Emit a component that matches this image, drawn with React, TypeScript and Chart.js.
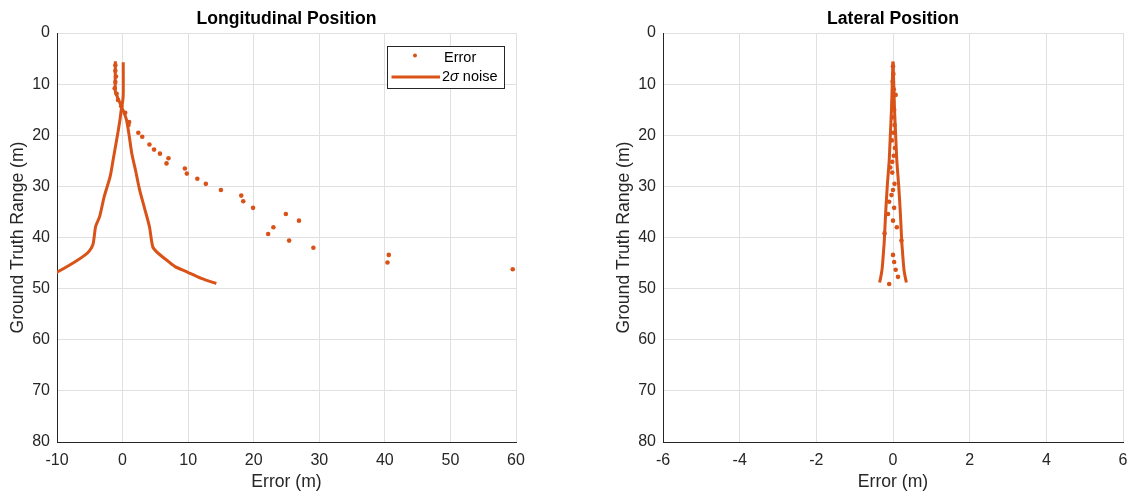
import React, { useEffect, useRef } from 'react';
import { Chart, registerables } from 'chart.js';

Chart.register(...registerables);

const FONT = '"Liberation Sans", Arial, Helvetica, sans-serif';
const ORANGE = '#D95319';
const AXIS = '#262626';
const GRID = '#e0e0e0';

// ---------- Longitudinal Position ----------
const lonErrRange = [6.3, 7.4, 8.5, 9.6, 10.8, 11.9, 13.1, 14.3, 15.6, 17.4, 18.0, 19.5, 20.3, 21.8, 22.8, 23.6, 24.5, 25.5, 26.5, 27.5, 28.5, 29.5, 30.7, 31.8, 32.9, 34.2, 35.4, 36.7, 38.0, 39.3, 40.6, 42.0, 43.4, 44.9, 46.2];
const lonErr = [-1.1, -1.1, -1.0, -1.1, -1.2, -0.9, -0.7, -0.2, 0.4, 1.0, 0.9, 2.4, 3.0, 4.1, 4.8, 5.7, 7.0, 6.7, 9.5, 9.8, 11.4, 12.7, 15.0, 18.1, 18.4, 19.9, 24.9, 26.9, 23.0, 22.2, 25.4, 29.1, 40.6, 40.4, 59.5];

const lonSigmaPosRange = [5.5, 11.5, 12.5, 14, 15.5, 17, 20, 23.5, 27, 30.7, 34.5, 37.9, 41.8, 42.8, 44.4, 45.7, 46.7, 48, 49];
const lonSigmaPos = [-1.1, -1.1, -0.8, -0.3, 0.2, 0.6, 1.0, 1.4, 2.0, 2.6, 3.4, 4.1, 4.6, 5.2, 6.7, 8.0, 9.8, 12.0, 14.3];
const lonSigmaNegRange = [5.7, 12, 13.5, 15, 17, 20.9, 24.5, 28.1, 32, 35.9, 37.8, 41.3, 42.5, 43.4, 44.8, 46.8, 48, 49];
const lonSigmaNeg = [0.1, 0.1, 0.0, -0.2, -0.4, -0.9, -1.4, -1.9, -2.8, -3.5, -4.1, -4.5, -5.0, -5.7, -7.3, -10, -12, -14.3];

// ---------- Lateral Position ----------
const latErrRange = [6.5, 8, 9.5, 11, 12.1, 13.5, 15, 16.5, 18, 19.5, 21, 22.5, 24, 25.2, 26.3, 27.3, 29.5, 30.7, 31.7, 33.0, 34.2, 35.4, 36.7, 38.0, 39.2, 40.6, 43.4, 44.8, 46.3, 47.7, 49.1];
const latErr = [0.0, 0.01, -0.01, 0.02, 0.07, 0.0, 0.03, -0.02, 0.04, 0.01, -0.03, 0.05, 0.02, -0.02, -0.07, -0.02, 0.04, 0.0, -0.04, -0.1, 0.03, -0.13, 0.0, 0.1, -0.22, 0.22, 0.0, 0.03, 0.07, 0.13, -0.1];

const latSigmaRange = [5.6, 10, 15, 20, 25, 30, 35, 38, 41, 43, 45, 46.5, 47.8, 48.8];
const latSigmaPos = [0.0, 0.02, 0.04, 0.07, 0.1, 0.15, 0.19, 0.21, 0.23, 0.25, 0.27, 0.29, 0.32, 0.35];
const latSigmaNeg = [0.0, -0.02, -0.04, -0.07, -0.1, -0.15, -0.19, -0.21, -0.23, -0.25, -0.27, -0.29, -0.32, -0.35];

// ---------- Axes ----------
const lonXTicks = { min: -10, max: 60, step: 10 };
const latXTicks = { min: -6, max: 6, step: 2 };
const yTicks = { min: 0, max: 80, step: 10 };

const titles = ['Longitudinal Position', 'Lateral Position'];
const xLabel = 'Error (m)';
const yLabel = 'Ground Truth Range (m)';
const legendLabels = ['Error', '2σ noise'];

const toPts = (xs: number[], ys: number[]) => xs.map((x, i) => ({ x, y: ys[i] }));

const legendPlugin = {
  id: 'matlabLegend',
  afterDraw(chart: any) {
    const { ctx, chartArea } = chart;
    const w = 117;
    const h = 42;
    const x = Math.round(chartArea.right - 12 - w);
    const y = Math.round(chartArea.top + 13);
    ctx.save();
    ctx.fillStyle = '#ffffff';
    ctx.fillRect(x, y, w, h);
    ctx.strokeStyle = AXIS;
    ctx.lineWidth = 1;
    ctx.strokeRect(x + 0.5, y + 0.5, w, h);
    ctx.fillStyle = ORANGE;
    ctx.beginPath();
    ctx.arc(x + 28, y + 9.5, 2, 0, Math.PI * 2);
    ctx.fill();
    ctx.strokeStyle = ORANGE;
    ctx.lineWidth = 3;
    ctx.beginPath();
    ctx.moveTo(x + 4.5, y + 31);
    ctx.lineTo(x + 53, y + 31);
    ctx.stroke();
    ctx.fillStyle = '#000';
    ctx.textBaseline = 'middle';
    ctx.textAlign = 'left';
    ctx.font = `14.5px ${FONT}`;
    ctx.fillText(legendLabels[0], x + 57, y + 12);
    const lbl = legendLabels[1];
    const p1 = lbl.slice(0, 1);
    const p2 = lbl.slice(1, 2);
    const p3 = lbl.slice(2);
    let tx = x + 55;
    ctx.fillText(p1, tx, y + 31);
    tx += ctx.measureText(p1).width;
    ctx.font = `italic 14.5px ${FONT}`;
    ctx.fillText(p2, tx, y + 31);
    tx += ctx.measureText(p2).width;
    ctx.font = `14.5px ${FONT}`;
    ctx.fillText(p3, tx, y + 31);
    ctx.restore();
  },
};

function buildConfig(
  title: string,
  xr: { min: number; max: number; step: number },
  errX: number[], errY: number[],
  posX: number[], posY: number[],
  negX: number[], negY: number[],
  padLeft: number, padRight: number,
  withLegend: boolean,
): any {
  return {
    type: 'scatter',
    data: {
      datasets: [
        {
          label: legendLabels[1],
          data: toPts(posX, posY),
          showLine: true,
          borderColor: ORANGE,
          backgroundColor: ORANGE,
          borderWidth: 3,
          pointRadius: 0,
          tension: 0.25,
          order: 0,
        },
        {
          label: legendLabels[1] + ' ',
          data: toPts(negX, negY),
          showLine: true,
          borderColor: ORANGE,
          backgroundColor: ORANGE,
          borderWidth: 3,
          pointRadius: 0,
          tension: 0.25,
          order: 0,
        },
        {
          label: legendLabels[0],
          data: toPts(errX, errY),
          showLine: false,
          backgroundColor: ORANGE,
          borderColor: ORANGE,
          borderWidth: 0,
          pointRadius: 2.3,
          order: 1,
        },
      ],
    },
    options: {
      responsive: false,
      animation: false,
      devicePixelRatio: 1,
      events: [],
      layout: { padding: { left: padLeft, right: padRight, top: 0, bottom: 0 } },
      plugins: {
        legend: { display: false },
        tooltip: { enabled: false },
        title: {
          display: true,
          text: title,
          fullSize: false,
          color: '#000',
          font: { family: FONT, size: 17.6, weight: 'bold', lineHeight: 1.2 },
          padding: { top: 8.5, bottom: 3.4 },
        },
      },
      scales: {
        x: {
          type: 'linear',
          min: xr.min,
          max: xr.max,
          ticks: {
            stepSize: xr.step,
            color: AXIS,
            font: { family: FONT, size: 16 },
            padding: 9,
            maxRotation: 0,
          },
          grid: { color: GRID, lineWidth: 1, drawTicks: false },
          border: { color: AXIS, width: 1 },
          title: {
            display: true,
            text: xLabel,
            color: AXIS,
            font: { family: FONT, size: 17.6, lineHeight: 1.2 },
            padding: { top: 0, bottom: 0 },
          },
          afterFit: (s: any) => { s.height = 51; },
        },
        y: {
          type: 'linear',
          reverse: true,
          min: yTicks.min,
          max: yTicks.max,
          ticks: {
            stepSize: yTicks.step,
            color: AXIS,
            font: { family: FONT, size: 16 },
            padding: 7,
          },
          grid: { color: GRID, lineWidth: 1, drawTicks: false },
          border: { color: AXIS, width: 1 },
          title: {
            display: true,
            text: yLabel,
            color: AXIS,
            font: { family: FONT, size: 17.6, lineHeight: 1.2 },
            padding: { top: 7.8, bottom: 0 },
          },
          afterFit: (s: any) => { s.width = 57; },
        },
      },
    },
    plugins: withLegend ? [legendPlugin] : [],
  };
}

function ChartCanvas({ config, left, width }: { config: any; left: number; width: number }) {
  const ref = useRef<HTMLCanvasElement | null>(null);
  useEffect(() => {
    if (!ref.current) return;
    const chart = new Chart(ref.current, config);
    return () => chart.destroy();
  }, [config]);
  return (
    <canvas
      ref={ref}
      width={width}
      height={493}
      style={{ position: 'absolute', left, top: 0, width, height: 493 }}
    />
  );
}

// Right canvas extends past the window edge (clipped) so the axis padding for the last tick label fits.
const lonConfig = buildConfig(titles[0], lonXTicks, lonErr, lonErrRange, lonSigmaPos, lonSigmaPosRange, lonSigmaNeg, lonSigmaNegRange, 0, 49, true);
const latConfig = buildConfig(titles[1], latXTicks, latErr, latErrRange, latSigmaPos, latSigmaRange, latSigmaNeg, latSigmaRange, 41, 22, false);

export default function App() {
  return (
    <div style={{ position: 'fixed', left: 0, top: 0, width: 1130, height: 493, background: '#fff', overflow: 'hidden' }}>
      <ChartCanvas config={lonConfig} left={0} width={565} />
      <ChartCanvas config={latConfig} left={565} width={580} />
    </div>
  );
}
